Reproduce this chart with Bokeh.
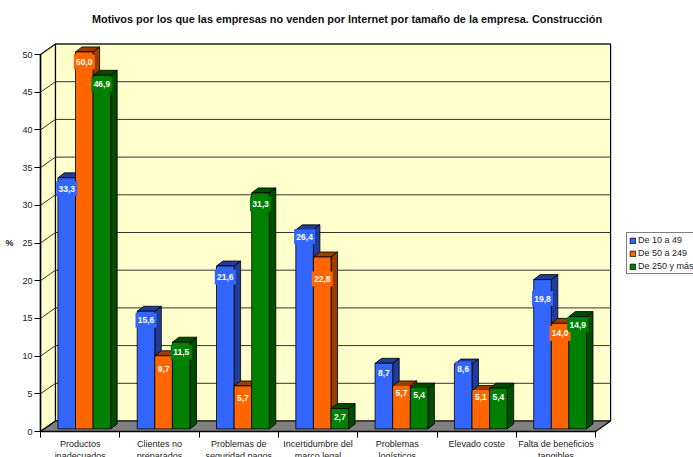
from bokeh.plotting import figure
from bokeh.embed import file_html
from bokeh.resources import INLINE
from bokeh.models import (Range1d, LinearAxis, FixedTicker, Legend, LegendItem, Title)
from bokeh.core.properties import value

TITLE = "Motivos por los que las empresas no venden por Internet por tamaño de la empresa. Construcción"
categories = ["Productos\ninadecuados", "Clientes no\npreparados", "Problemas de\nseguridad pagos",
              "Incertidumbre del\nmarco legal", "Problemas\nlogísticos", "Elevado coste",
              "Falta de beneficios\ntangibles"]
series_names = ["De 10 a 49", "De 50 a 249", "De 250 y más"]
v_small = [33.3, 15.6, 21.6, 26.4, 8.7, 8.6, 19.8]
v_medium = [50.0, 9.7, 5.7, 22.8, 5.7, 5.1, 14.0]
v_large = [46.9, 11.5, 31.3, 2.7, 5.4, 5.4, 14.9]
y_ticks = [0, 5, 10, 15, 20, 25, 30, 35, 40, 45, 50]

# how far below the top of each bar its value label sits, in pixels
label_drop = [[11, 9, 11, 7, 10, 5, 19],
              [10, 13, 12, 22, 7, 7, 10],
              [9, 10, 11, 8, 7, 9, 8]]

front_colors = ["#3366FF", "#FF6600", "#008000"]
dark_colors = ["#1F3D99", "#993D00", "#004D00"]
FONT = "Liberation Sans"

PX_X, PX_Y = 79.3, 7.54          # pixels per category / per value unit
X0, Y0 = 40, 431                 # position of the data origin in the picture
W, H, TOP = 693, 457, 28
x_range = Range1d((0 - X0) / PX_X, (W - X0) / PX_X)
y_range = Range1d((Y0 - H) / PX_Y, (Y0 - TOP) / PX_Y)

p = figure(width=W, height=H, output_backend="svg", toolbar_location=None,
           x_range=x_range, y_range=y_range, min_border_left=0, min_border_right=0,
           min_border_top=TOP, min_border_bottom=0, outline_line_color=None,
           x_axis_type=None, y_axis_type=None)
p.grid.visible = False
p.title = Title(text=TITLE, align="center", text_font=FONT, text_font_size="10.9px",
                text_font_style="bold", text_color="#111111", offset=-6, standoff=8)

n = len(categories)
ymax = y_ticks[-1]
DX, DY = 15 / PX_X, 10.5 / PX_Y  # chart depth
WALL = "#FFFFCC"

# walls, floor
p.patch([0, DX, DX, 0], [0, DY, ymax + DY, ymax], fill_color=WALL, line_color="black", line_width=1.2)
p.patch([DX, n + DX, n + DX, DX], [DY, DY, ymax + DY, ymax + DY], fill_color=WALL, line_color="black", line_width=1.2)
p.segment([DX] * 10, [t + DY for t in y_ticks[1:]], [n + DX] * 10, [t + DY for t in y_ticks[1:]],
          line_color="#333333", line_width=1)
p.segment([0] * 10, y_ticks[1:], [DX] * 10, [t + DY for t in y_ticks[1:]], line_color="#333333", line_width=1)
p.patch([0, DX, n + DX, n], [0, DY, DY, 0], fill_color="#808080", line_color="black", line_width=1.2)

# bars
BW = 17.6 / PX_X
GROUP_OFF = 17 / PX_X            # left edge of the group in a category
ZX, ZY = 0.4 / PX_X, 2.6 / PX_Y  # bars stand slightly inside the floor
BDX, BDY = 6.5 / PX_X, 5 / PX_Y  # bar depth
legend_items = []
labels = []
for s, vals in enumerate([v_small, v_medium, v_large]):
    lefts = [i + GROUP_OFF + ZX + s * BW for i in range(n)]
    rights = [l + BW for l in lefts]
    p.patches([[r, r + BDX, r + BDX, r] for r in rights],
              [[ZY, ZY + BDY, v + ZY + BDY, v + ZY] for v in vals],
              fill_color=dark_colors[s], line_color="black", line_width=0.8)
    p.patches([[l, l + BDX, r + BDX, r] for l, r in zip(lefts, rights)],
              [[v + ZY, v + ZY + BDY, v + ZY + BDY, v + ZY] for v in vals],
              fill_color=dark_colors[s], line_color="black", line_width=0.8)
    r = p.quad(left=lefts, right=rights, bottom=[ZY] * n, top=[v + ZY for v in vals],
               fill_color=front_colors[s], line_color="black", line_width=0.8)
    legend_items.append(LegendItem(label=series_names[s], renderers=[r]))
    txt = [f"{v:.1f}".replace(".", ",") for v in vals]
    labels.append(([l + BW / 2 for l in lefts],
                   [v + ZY - d / PX_Y for v, d in zip(vals, label_drop[s])],
                   txt, [5.25 * len(t) for t in txt], front_colors[s]))

for xs, ys, txt, widths, col in labels:
    p.rect(xs, ys, width=widths, height=15, width_units="screen", height_units="screen",
           fill_color=col, line_color=None)
for xs, ys, txt, widths, col in labels:
    p.text(xs, ys, text=txt, text_color="white", text_font=value(FONT), text_font_size="8.5px",
           text_font_style="bold", text_align="center", text_baseline="middle")

# axes
yax = LinearAxis(fixed_location=0, ticker=FixedTicker(ticks=y_ticks), bounds=(0, ymax),
                 axis_line_color="black", axis_line_width=1.5, major_tick_line_color="black",
                 major_tick_in=0, major_tick_out=6, minor_tick_line_color=None,
                 major_label_text_font=FONT, major_label_text_font_size="9px",
                 major_label_text_color="#222222", major_label_standoff=2,
                 axis_label="%", axis_label_orientation="horizontal", axis_label_text_font=FONT,
                 axis_label_text_font_size="9px", axis_label_text_font_style="bold",
                 axis_label_standoff=6, axis_label_text_color="#222222")
p.add_layout(yax, "left")
xticks = LinearAxis(fixed_location=0, ticker=FixedTicker(ticks=list(range(n + 1))), bounds=(0, n),
                    axis_line_color="black", axis_line_width=1.5, major_tick_line_color="black",
                    major_tick_in=0, major_tick_out=6, minor_tick_line_color=None,
                    major_label_overrides={i: "" for i in range(n + 1)})
p.add_layout(xticks, "below")
centers = [i + 0.5 for i in range(n)]
xlabels = LinearAxis(fixed_location=0, ticker=FixedTicker(ticks=centers), axis_line_color=None,
                     major_tick_line_color=None, minor_tick_line_color=None, major_tick_out=0,
                     major_label_overrides={c: t for c, t in zip(centers, categories)},
                     major_label_text_font=FONT, major_label_text_font_size="9px",
                     major_label_text_color="#222222", major_label_standoff=7)
p.add_layout(xlabels, "below")

legend = Legend(items=legend_items, location=(626, 183), orientation="vertical",
                glyph_width=7, glyph_height=7, label_height=10, label_width=50, label_standoff=2,
                spacing=3, padding=2, margin=0, border_line_color="black", border_line_width=1,
                background_fill_color="white", background_fill_alpha=1,
                label_text_font=FONT, label_text_font_size="9px", label_text_color="#222222")
p.add_layout(legend, "center")

open("out.html", "w").write(file_html(p, INLINE))
